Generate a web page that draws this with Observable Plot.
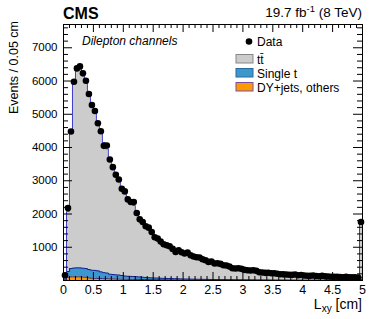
<!DOCTYPE html>
<html><head><meta charset="utf-8">
<script src="https://cdn.jsdelivr.net/npm/d3@7"></script>
<script src="https://cdn.jsdelivr.net/npm/@observablehq/plot@0.6"></script>
<style>
body{margin:0;background:#fff;}
#chart{width:374px;height:319px;}
</style></head><body><div id="chart"></div>
<script>
const binWidth = 0.05;
const dataCounts = [
160, 2180, 4480, 5980, 6380, 6440, 6230, 6010, 5610, 5280,
5100, 4730, 4490, 4050, 4060, 3640, 3410, 3180, 3040, 2760,
2680, 2440, 2360, 2360, 2030, 1840, 1760, 1630, 1590, 1460,
1300, 1260, 1170, 1090, 1060, 1030, 950, 860, 910, 850,
810, 840, 760, 720, 700, 690, 640, 610, 560, 570,
510, 520, 500, 460, 450, 420, 370, 360, 370, 350,
320, 310, 300, 310, 290, 250, 240, 230, 235, 220,
220, 205, 190, 185, 180, 175, 170, 180, 160, 165,
150, 145, 140, 150, 135, 130, 140, 125, 120, 115,
110, 115, 105, 100, 110, 100, 95, 100, 90, 1760];
const ttbar = [
125, 1810, 4140, 5575, 5950, 6020, 5880, 5620, 5290, 4990,
4775, 4470, 4220, 3915, 3735, 3510, 3250, 3040, 2845, 2670,
2515, 2362, 2236, 2140, 1967, 1793, 1680, 1570, 1487, 1391,
1284, 1197, 1121, 1045, 998, 951, 894, 837, 830, 803,
775, 747, 708, 680, 651, 633, 604, 566, 537, 519,
490, 472, 452, 433, 414, 385, 365, 347, 332, 318,
299, 285, 275, 266, 252, 238, 228, 219, 209, 200,
196, 186, 181, 172, 167, 163, 158, 154, 149, 144,
139, 135, 130, 128, 125, 121, 118, 116, 112, 109,
106, 103, 100, 97, 95, 93, 91, 89, 87, 1650];
const singleTop = [
30, 170, 250, 265, 270, 270, 265, 260, 250, 240,
240, 230, 200, 180, 170, 140, 130, 125, 120, 110,
95, 90, 88, 85, 80, 75, 70, 60, 55, 52,
50, 48, 45, 42, 40, 38, 36, 34, 32, 30,
29, 28, 27, 26, 25, 24, 23, 22, 21, 20,
19, 18, 18, 17, 17, 16, 16, 15, 15, 14,
14, 13, 13, 12, 12, 11, 11, 10, 10, 10,
9, 9, 9, 8, 8, 8, 8, 7, 7, 7,
7, 6, 6, 6, 6, 6, 6, 5, 5, 5,
5, 5, 5, 5, 4, 4, 4, 4, 4, 70];
const dyOthers = [
15, 100, 110, 110, 110, 110, 105, 100, 80, 70,
65, 60, 60, 55, 55, 50, 50, 45, 45, 40,
40, 38, 36, 35, 33, 32, 30, 30, 28, 27,
26, 25, 24, 23, 22, 21, 20, 19, 18, 17,
16, 15, 15, 14, 14, 13, 13, 12, 12, 11,
11, 10, 10, 10, 9, 9, 9, 8, 8, 8,
7, 7, 7, 7, 6, 6, 6, 6, 6, 5,
5, 5, 5, 5, 5, 4, 4, 4, 4, 4,
4, 4, 4, 4, 3, 3, 3, 3, 3, 3,
3, 3, 3, 3, 3, 3, 2, 2, 2, 30];

const processNames = ["DY+jets, others", "Single t", "tt\u0304"];
const fillColors = {"DY+jets, others": "#ff9900", "Single t": "#3a98cf", "tt\u0304": "#cccccc"};
const strokeColors = {"DY+jets, others": "#2a2a8a", "Single t": "#1c1c8c", "tt\u0304": "#3c3cc8"};
const xMajor = [0, 0.5, 1, 1.5, 2, 2.5, 3, 3.5, 4, 4.5, 5];
const xMinor = d3.range(0, 51).map(i => i / 10).filter(v => !xMajor.includes(v));
const yMajor = [1000, 2000, 3000, 4000, 5000, 6000, 7000];
const yMinor = d3.range(200, 7700, 200).filter(v => v % 1000 !== 0);

const series = {"DY+jets, others": dyOthers, "Single t": singleTop, "tt\u0304": ttbar};
const rows = [];
for (const p of processNames) {
  const vals = series[p];
  vals.forEach((v, i) => rows.push({x: i * binWidth, process: p, value: v}));
  rows.push({x: vals.length * binWidth, process: p, value: vals[vals.length - 1]});
}
const points = dataCounts.map((v, i) => ({x: (i + 0.5) * binWidth, y: v}));

const W = 374, H = 319, ML = 63, MR = 12, MT = 24, MB = 39;
const PW = W - ML - MR, PH = H - MT - MB;
const font = "'Liberation Sans', Arial, Helvetica, sans-serif";

const chart = Plot.plot({
  width: W, height: H, marginLeft: ML, marginRight: MR, marginTop: MT, marginBottom: MB,
  x: {domain: [0, 5]},
  y: {domain: [0, 7700]},
  color: {type: "identity"},
  style: {fontFamily: font, background: "white", color: "black", overflow: "visible"},
  marks: [
    Plot.areaY(rows, {x: "x", y: "value", z: "process", fill: d => fillColors[d.process], order: processNames, curve: "step-after"}),
    Plot.lineY(rows, Plot.stackY2({x: "x", y: "value", z: "process", order: processNames, stroke: d => strokeColors[d.process], strokeWidth: 1, curve: "step-after"})),
    Plot.tickX(xMajor, {x: d => d, insetTop: PH - 8, stroke: "black"}),
    Plot.tickX(xMinor, {x: d => d, insetTop: PH - 4, stroke: "black"}),
    Plot.tickX(xMajor, {x: d => d, insetBottom: PH - 8, stroke: "black"}),
    Plot.tickX(xMinor, {x: d => d, insetBottom: PH - 4, stroke: "black"}),
    Plot.tickY(yMajor, {y: d => d, insetRight: PW - 9, stroke: "black"}),
    Plot.tickY(yMinor, {y: d => d, insetRight: PW - 5, stroke: "black"}),
    Plot.tickY(yMajor, {y: d => d, insetLeft: PW - 9, stroke: "black"}),
    Plot.tickY(yMinor, {y: d => d, insetLeft: PW - 5, stroke: "black"}),
    Plot.dot(points, {x: "x", y: "y", r: 3.3, fill: "black", stroke: "none"}),
    Plot.frame({stroke: "black", strokeWidth: 1}),
    Plot.axisX(xMajor, {tickSize: 0, tickPadding: 5, fontSize: 12.5, label: null, tickFormat: d => String(d)}),
    Plot.axisY(yMajor, {tickSize: 0, tickPadding: 6, fontSize: 11.5, label: null, tickFormat: d => String(d)})
  ]
});
document.getElementById("chart").appendChild(chart);

const svg = d3.select(chart);
const g = svg.append("g").attr("font-family", font).attr("fill", "black").attr("text-anchor", "start");
// Y title
g.append("text").attr("transform", "translate(18,21) rotate(-90)").attr("text-anchor", "end")
  .attr("font-size", 12.5).text("Events / 0.05 cm");
// X title
const xt = g.append("text").attr("x", 362).attr("y", 309).attr("text-anchor", "end").attr("font-size", 14);
xt.append("tspan").text("L");
xt.append("tspan").attr("dy", 3).attr("font-size", 10).text("xy");
xt.append("tspan").attr("dy", -3).text(" [cm]");
// CMS
g.append("text").attr("x", 63).attr("y", 18.5).attr("font-size", 16).attr("font-weight", "bold").text("CMS");
// lumi
const lt = g.append("text").attr("x", 362).attr("y", 17).attr("text-anchor", "end").attr("font-size", 13.5);
lt.append("tspan").text("19.7 fb");
lt.append("tspan").attr("dy", -5).attr("font-size", 9.5).text("-1");
lt.append("tspan").attr("dy", 5).text(" (8 TeV)");
// Channel label
g.append("text").attr("x", 82).attr("y", 44.5).attr("font-size", 12).attr("font-style", "italic").text("Dilepton channels");
// Legend
g.append("circle").attr("cx", 249).attr("cy", 41.5).attr("r", 3.3).attr("fill", "black");
g.append("text").attr("x", 257).attr("y", 45.5).attr("font-size", 12).text("Data");
const legendItems = [
  {name: "tt\u0304", y: 54.5, stroke: "#888888"},
  {name: "Single t", y: 68.5, stroke: "#2a6a9a"},
  {name: "DY+jets, others", y: 82.5, stroke: "#7a4fa0"}
];
legendItems.forEach(it => {
  g.append("rect").attr("x", 236).attr("y", it.y).attr("width", 17).attr("height", 8.5)
    .attr("fill", fillColors[it.name]).attr("stroke", it.stroke).attr("stroke-width", 1);
  g.append("text").attr("x", 257).attr("y", it.y + 9).attr("font-size", 12).text(it.name);
});
</script></body></html>
